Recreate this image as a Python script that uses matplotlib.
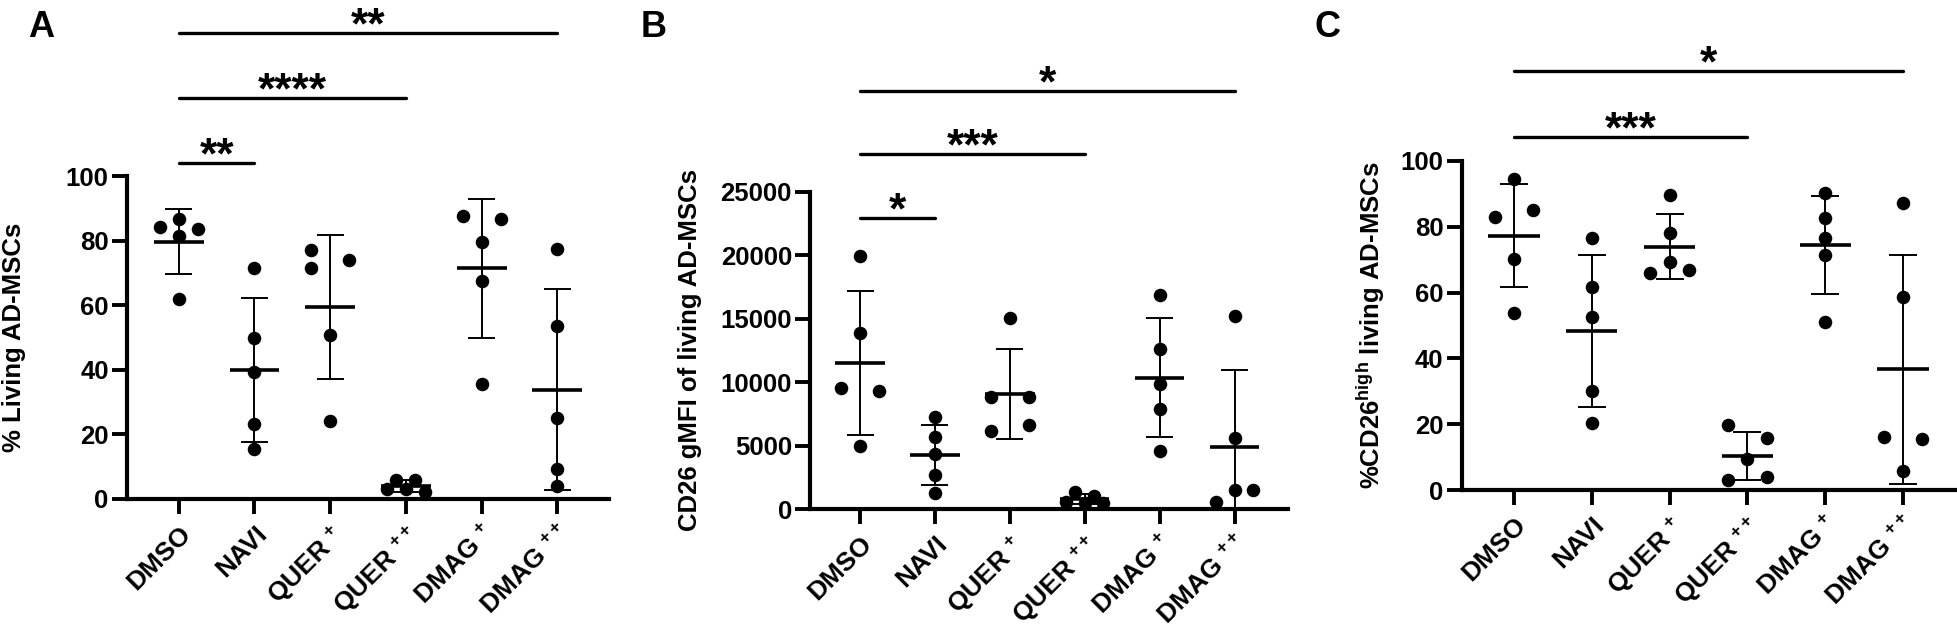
import numpy as np
import matplotlib
matplotlib.use("Agg")
import matplotlib.pyplot as plt

plt.rcParams['font.family'] = ['Liberation Sans', 'DejaVu Sans']
plt.rcParams['font.weight'] = 'bold'
plt.rcParams['mathtext.fontset'] = 'custom'
plt.rcParams['mathtext.rm'] = 'Liberation Sans:bold'
plt.rcParams['mathtext.bf'] = 'Liberation Sans:bold'
plt.rcParams['mathtext.it'] = 'Liberation Sans:bold'
plt.rcParams['mathtext.default'] = 'bf'

# ---------------- data ----------------
categories = ['DMSO', 'NAVI', 'QUER +', 'QUER ++', 'DMAG +', 'DMAG ++']
tick_labels = ['DMSO', 'NAVI', 'QUER $^{+}$', 'QUER $^{++}$', 'DMAG $^{+}$', 'DMAG $^{++}$']

# Panel A: % living AD-MSCs
living_dmso = [84.3, 86.8, 81.5, 83.5, 62.0]
living_navi = [71.5, 49.9, 39.3, 23.3, 15.5]
living_quer1 = [77.1, 71.5, 74.1, 50.7, 24.2]
living_quer2 = [5.9, 5.9, 3.0, 3.0, 2.1]
living_dmag1 = [87.6, 86.7, 79.7, 67.6, 35.6]
living_dmag2 = [77.3, 53.6, 25.2, 9.3, 3.9]

# Panel B: CD26 gMFI of living AD-MSCs
gmfi_dmso = [19895, 13875, 9503, 9294, 4974]
gmfi_navi = [7278, 5655, 4320, 2723, 1257]
gmfi_quer1 = [15054, 8796, 8796, 6624, 6152]
gmfi_quer2 = [1335, 1047, 602, 471, 524]
gmfi_dmag1 = [16834, 12645, 9844, 7854, 4608]
gmfi_dmag2 = [15185, 5576, 602, 1518, 1518]

# Panel C: % CD26high living AD-MSCs
cd26_dmso = [94.5, 83.1, 85.1, 70.3, 53.7]
cd26_navi = [76.7, 61.8, 52.5, 30.1, 20.3]
cd26_quer1 = [89.7, 78.0, 69.4, 65.9, 66.9]
cd26_quer2 = [19.8, 15.7, 9.3, 3.0, 4.1]
cd26_dmag1 = [90.4, 82.6, 76.5, 71.4, 51.0]
cd26_dmag2 = [87.1, 58.8, 16.0, 15.4, 5.9]

# significance comparisons (group i vs group j, label)
sig_A = [(0, 1, '**'), (0, 3, '****'), (0, 5, '**')]
sig_B = [(0, 1, '*'), (0, 3, '***'), (0, 5, '*')]
sig_C = [(0, 3, '***'), (0, 5, '*')]

# ---------------- layout / style ----------------
# horizontal scatter slots of each point (in units of 1/8 category)
slots_A = [[-2, 0, 0, 2, 0], [0, 0, 0, 0, 0], [-2, -2, 2, 0, 0],
           [-1, 1, -2, 0, 2], [-2, 2, 0, 0, 0], [0, 0, 0, 0, 0]]
slots_B = [[0, 0, -2, 2, 0], [0, 0, 0, 0, 0], [0, -2, 2, 2, -2],
           [-1, 1, -2, 0, 2], [0, 0, 0, 0, 0], [0, 0, -2, 0, 2]]
slots_C = [[0, -2, 2, 0, 0], [0, 0, 0, 0, 0], [0, 0, 0, -2, 2],
           [-2, 2, 0, -2, 2], [0, 0, 0, 0, 0], [0, 0, -2, 2, 0]]
bar_y_A = [104.0, 124.1, 144.3]
bar_y_B = [22893, 27928, 32932]
bar_y_C = [107.2, 127.4]

W, H = 1958, 630
fig = plt.figure(figsize=(W / 100, H / 100), dpi=100)

def px_axes(left, right, bottom, top):
    return fig.add_axes([left / W, (H - bottom) / H, (right - left) / W, (bottom - top) / H])

axA = px_axes(126.7, 609, 499, 176)
axB = px_axes(810, 1288, 509.3, 191.5)
axC = px_axes(1461.6, 1957, 490, 161)

panels = [
    (axA, [living_dmso, living_navi, living_quer1, living_quer2, living_dmag1, living_dmag2],
     slots_A, sig_A, bar_y_A, (0, 100), np.arange(0, 101, 20), (-0.688, 5.683),
     '% Living AD-MSCs', 'A', 27.6, 26),
    (axB, [gmfi_dmso, gmfi_navi, gmfi_quer1, gmfi_quer2, gmfi_dmag1, gmfi_dmag2],
     slots_B, sig_B, bar_y_B, (0, 25000), np.arange(0, 25001, 5000), (-0.668, 5.714),
     'CD26 gMFI of living AD-MSCs', 'B', 641, 702),
    (axC, [cd26_dmso, cd26_navi, cd26_quer1, cd26_quer2, cd26_dmag1, cd26_dmag2],
     slots_C, sig_C, bar_y_C, (0, 100), np.arange(0, 101, 20), (-0.673, 5.694),
     '%CD26$^{high}$ living AD-MSCs', 'C', 1314.7, 1387),
]

for ax, groups, slots, sigs, bar_ys, ylim, yticks, xlim, ylabel, letter, lx, ylx in panels:
    for i, (vals, sl) in enumerate(zip(groups, slots)):
        vals = np.asarray(vals, dtype=float)
        xs = i + np.asarray(sl) * 0.125
        ax.scatter(xs, vals, s=95, color='black', zorder=3, clip_on=False, linewidths=0)
        m = vals.mean()
        sd = vals.std(ddof=1)
        lo = max(m - sd, ylim[0])
        ax.plot([i - 0.33, i + 0.33], [m, m], color='black', lw=2.6, zorder=4,
                solid_capstyle='butt')
        ax.plot([i, i], [lo, m + sd], color='black', lw=1.4, zorder=4)
        for yy in (lo, m + sd):
            ax.plot([i - 0.18, i + 0.18], [yy, yy], color='black', lw=1.4, zorder=4,
                    solid_capstyle='butt')
    for (a, b, lab), yb in zip(sigs, bar_ys):
        ax.plot([a, b], [yb, yb], color='black', lw=2.4, clip_on=False,
                solid_capstyle='round')
        ax.annotate(lab, xy=((a + b) / 2, yb), xytext=(0, -4), textcoords='offset points',
                    ha='center', va='baseline', fontsize=32, fontweight='bold',
                    annotation_clip=False)
    ax.set_xlim(*xlim)
    ax.set_ylim(*ylim)
    ax.set_yticks(yticks)
    ax.set_xticks(range(len(categories)))
    ax.set_xticklabels(tick_labels, rotation=45, ha='right', rotation_mode='anchor',
                       fontsize=19, fontweight='bold')
    ax.tick_params(axis='y', labelsize=18.5, width=2.8, length=11, pad=2)
    ax.tick_params(axis='x', width=2.8, length=11, pad=5)
    for lbl in ax.get_yticklabels():
        lbl.set_fontweight('bold')
    ax.set_ylabel(ylabel, fontsize=18.5, fontweight='bold')
    bb = ax.get_position()
    ax.yaxis.set_label_coords((ylx - bb.x0 * W) / (bb.width * W), 0.5)
    for s in ('top', 'right'):
        ax.spines[s].set_visible(False)
    for s in ('left', 'bottom'):
        ax.spines[s].set_linewidth(3.0)
    ax.patch.set_visible(False)
    fig.text(lx / W, (H - 37) / H, letter, fontsize=26, fontweight='bold',
             ha='left', va='baseline')

fig.savefig('out.png', dpi=100)
